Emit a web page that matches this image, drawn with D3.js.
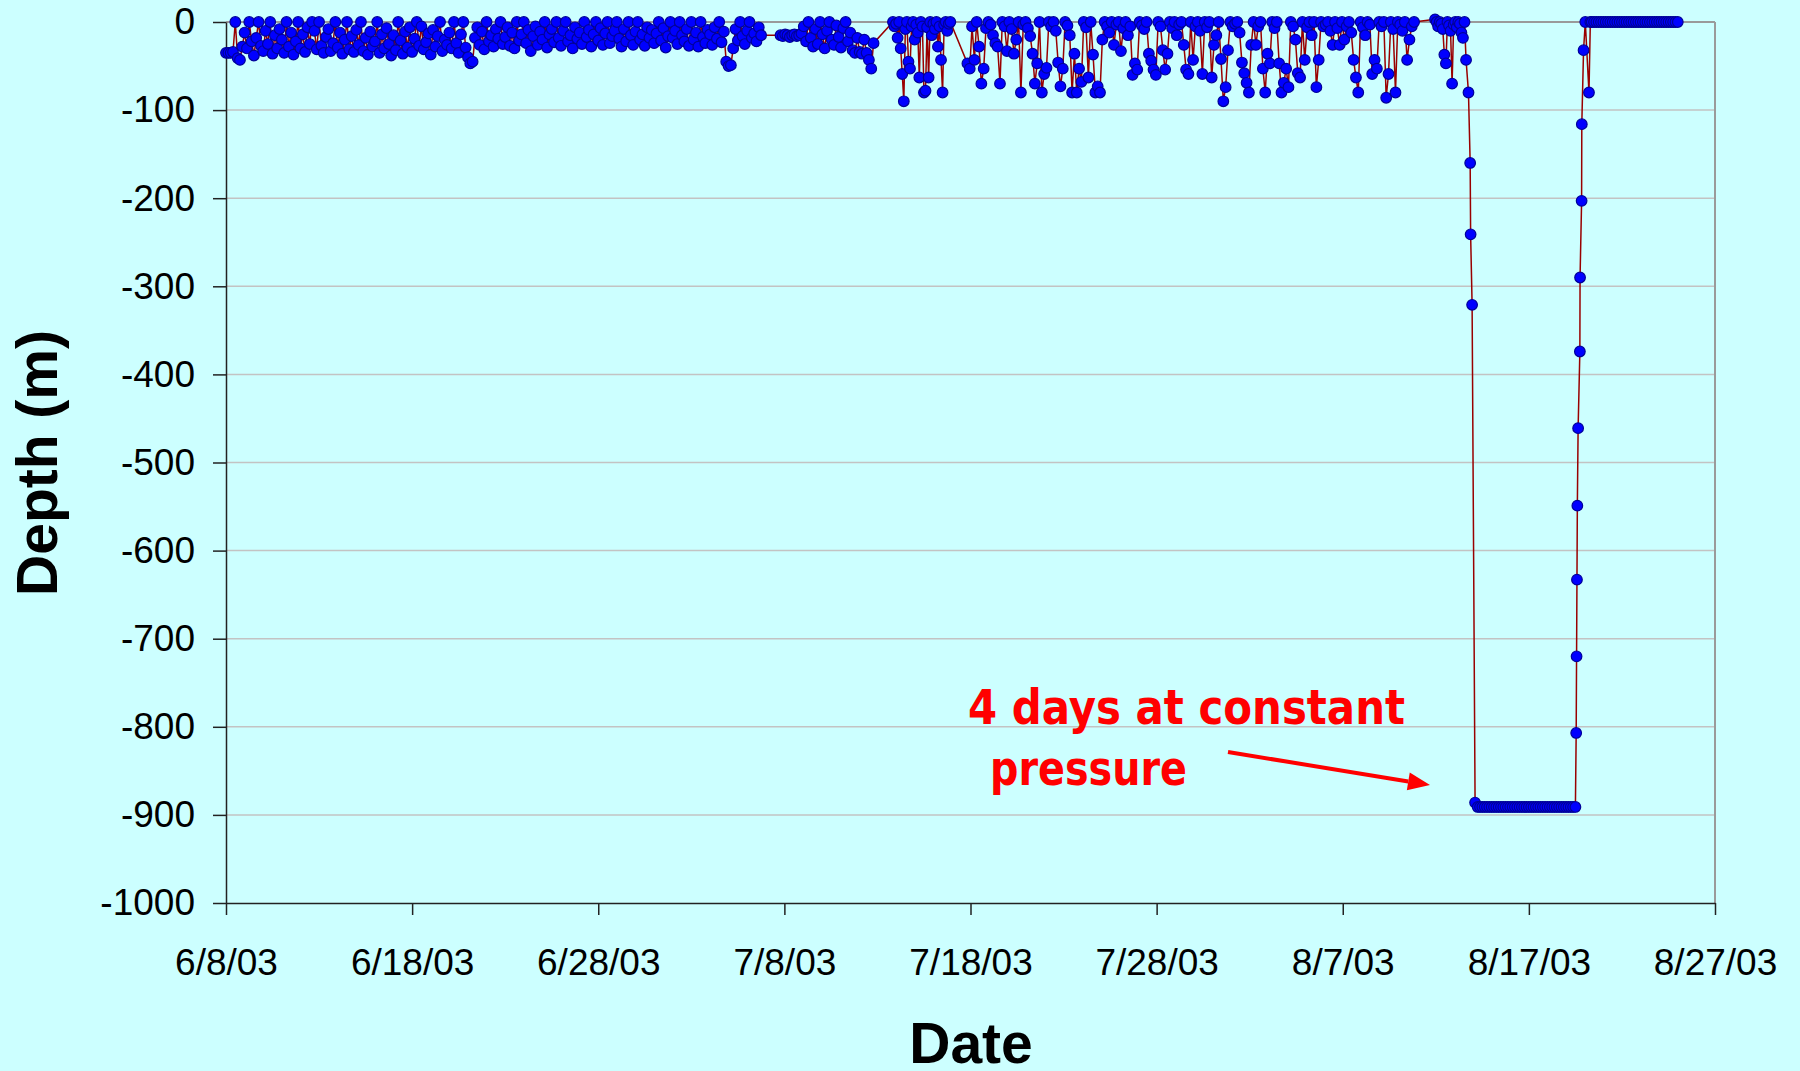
<!DOCTYPE html>
<html>
<head>
<meta charset="utf-8">
<script src="https://cdn.jsdelivr.net/npm/d3@7"></script>
<style>
  html, body { margin: 0; padding: 0; background: #CCFFFF; }
  svg { display: block; }
</style>
</head>
<body>
<script>
// ---------------- DATA ----------------
const xTickDates = ["2003-06-08","2003-06-18","2003-06-28","2003-07-08","2003-07-18","2003-07-28","2003-08-07","2003-08-17","2003-08-27"];
const xTickLabels = ["6/8/03","6/18/03","6/28/03","7/8/03","7/18/03","7/28/03","8/7/03","8/17/03","8/27/03"];
const yTickValues = [0,-100,-200,-300,-400,-500,-600,-700,-800,-900,-1000];
const yTickLabels = ["0","-100","-200","-300","-400","-500","-600","-700","-800","-900","-1000"];

// regularly sampled segments: start time, sampling step (hours)
const segStarts = ["2003-06-08T00:00","2003-07-07T19:00","2003-07-13T20:00","2003-07-17T20:00","2003-08-11T23:00","2003-08-14T06:00","2003-08-20T09:00"];
const segStepHours = [3, 3, 2, 3, 2, 3, 3];

// 6/8 - 7/7 (3 h)
const depthJune = [
 -35,-35,-35,-34,0,-41,-43,-28,
 -12,-30,0,-22,-38,-18,0,-27,
 -33,-10,-25,0,-36,-15,-30,-8,
 -20,-35,0,-28,-12,-37,-22,0,
 -30,-14,-34,-6,-25,0,-10,-31,
 0,-27,-35,-17,-8,-33,-24,0,
 -29,-12,-36,-20,0,-31,-16,-34,
 -9,-26,0,-33,-18,-37,-11,-28,
 -22,0,-35,-14,-30,-7,-25,-38,
 -15,-32,0,-21,-36,-11,-29,-6,
 -34,-19,0,-27,-5,-31,-23,-13,
 -37,-9,-28,-16,0,-33,-20,-26,
 -12,-30,0,-24,-35,-14,0,-29,
 -40,-47,-45,-18,-6,-26,-11,-31,
 0,-22,-15,-28,-8,-19,0,-25,
 -17,-6,-27,-12,-30,0,-21,-14,
 0,-24,-9,-33,-16,-5,-26,-11,
 -20,0,-29,-14,-8,-23,0,-18,
 -27,-10,0,-22,-15,-30,-6,-19,
 -12,-25,0,-17,-9,-28,-14,0,
 -21,-7,-26,-13,0,-24,-16,-10,
 0,-19,-28,-8,-22,0,-15,-26,
 -11,0,-20,-14,-27,-6,-18,-9,
 -24,-13,0,-21,-7,-29,-16,0,
 -18,-10,-25,0,-15,-22,-8,-27,
 0,-20,-12,-28,0,-17,-24,-9,
 -14,-26,-6,-19,0,-23,-11,-45,
 -50,-49,-30,-8,-21,0,-16,-25,
 -10,0,-18,-13,-22,-6,-15
];
// 7/7 - 7/13 (3 h)
const depthEarlyJuly = [
 -15,-16,-14,-15,-17,-15,-14,-16,-15,-13,
 -5,-22,0,-18,-28,-8,-25,0,-14,-30,
 -10,0,-20,-26,-4,-17,-29,-7,0,-22,
 -12,-32,-35,-18,-34,-36,-20,-35,-43,-53,-24
];
// 7/13 - 7/16 (2 h)
const depthMidJuly = [
 0,-5,-2,-18,0,-30,-59,-90,-8,0,-45,-53,-5,0,-20,-3,-12,-63,0,-5,
 -80,-78,-6,-63,0,-15,-2,-8,0,-28,-5,-43,-80,-3,0,-10,-2,0
];
// 7/17 - 8/10 (3 h)
const depthLateJuly = [
 -47,-53,-5,-43,0,-28,-70,-53,
 -7,0,-3,-15,-24,-28,-70,0,
 -5,-33,0,-8,-36,-20,0,-80,
 -3,0,-7,-16,-36,-70,-47,0,
 -80,-59,-52,0,-5,0,-10,-46,
 -73,-53,0,-4,-15,-80,-36,-80,
 -53,-68,0,-6,-63,0,-37,-80,
 -73,-80,-20,0,-5,-12,0,-26,
 -3,0,-33,-7,0,-15,-5,-60,
 -47,-54,0,-4,-8,0,-36,-44,
 -54,-60,0,-5,-32,-54,-36,0,
 -7,0,-15,-3,0,-26,-54,-59,
 0,-43,-5,0,-10,-59,0,-6,
 0,-63,-26,-15,0,-42,-90,-74,
 -32,0,-5,-2,0,-12,-46,-58,
 -69,-80,-26,0,-26,-5,0,-53,
 -80,-36,-47,0,-7,0,-47,-80,
 -69,-53,-74,0,-5,-20,-58,-63,
 0,-43,-6,0,-15,0,-74,-43,
 0,-5,-3,0,-10,-26,0,-7,
 -26,0,-20,-5,0,-12,-43,-63,
 -80,0,-6,-15,0,-3,-59,-43,
 -53,0,-5,0,-86,-59,0,-8,
 -80,0,-3,-10,0,-43,-20,-5,
 0
];
// 8/11 - 8/13 (2 h)
const depthAugust = [3,0,-5,0,-2,-8,-37,-47,0,-4,-10,-70,-3,0,-6,0,-2,-12,-18,0,-43];
// plateau 8/14 - 8/19 (3 h)
const depthPlateau = [
 -891,-891,-891,-891,-891,-891,-891,-891,-891,-891,
 -891,-891,-891,-891,-891,-891,-891,-891,-891,-891,
 -891,-891,-891,-891,-891,-891,-891,-891,-891,-891,
 -891,-891,-891,-891,-891,-891,-891,-891,-891,-891,
 -891,-891,-891
];
// surface 8/20 - 8/25 (3 h)
const depthSurface = [
 0,0,0,0,0,0,0,0,0,0,0,0,0,0,0,0,0,0,0,0,
 0,0,0,0,0,0,0,0,0,0,0,0,0,0,0,0,0,0
];
const segDepths = [depthJune, depthEarlyJuly, depthMidJuly, depthLateJuly, depthAugust, depthPlateau, depthSurface];

// irregular points: the dive down and the ascent
const descentTimes = ["2003-08-13T18:07","2003-08-13T20:18","2003-08-13T20:53","2003-08-13T22:48","2003-08-14T02:38"];
const descentDepths = [-80,-160,-241,-321,-886];
const ascentTimes = ["2003-08-19T13:00","2003-08-19T13:30","2003-08-19T14:00","2003-08-19T14:30","2003-08-19T15:30","2003-08-19T17:45","2003-08-19T18:00","2003-08-19T20:00","2003-08-19T20:15","2003-08-19T22:30","2003-08-20T00:45","2003-08-20T05:30","2003-08-20T07:15"];
const ascentDepths = [-807,-720,-633,-549,-461,-374,-290,-203,-116,-32,0,-80,0];

// ---------------- BUILD ----------------
const parseT = d3.timeParse("%Y-%m-%dT%H:%M");
const parseD = d3.timeParse("%Y-%m-%d");
let pts = [];
segStarts.forEach((s, k) => {
  const t0 = parseT(s);
  segDepths[k].forEach((v, i) => {
    pts.push({t: new Date(t0.getTime() + i * segStepHours[k] * 3600000), v});
  });
});
descentTimes.forEach((s, i) => pts.push({t: parseT(s), v: descentDepths[i]}));
ascentTimes.forEach((s, i) => pts.push({t: parseT(s), v: ascentDepths[i]}));
pts.sort((a, b) => a.t - b.t);

const W = 1800, H = 1071;
const L = 226, R = 1715, T = 22, B = 903;

const svg = d3.select("body").append("svg").attr("width", W).attr("height", H);
svg.append("rect").attr("width", W).attr("height", H).attr("fill", "#CCFFFF");

const x = d3.scaleTime().domain([parseD(xTickDates[0]), parseD(xTickDates[xTickDates.length - 1])]).range([L, R]);
const y = d3.scaleLinear().domain([-1000, 0]).range([B, T]);

// gridlines
svg.append("g").selectAll("line").data(yTickValues.filter(v => v > -1000)).join("line")
  .attr("x1", L).attr("x2", R).attr("y1", d => y(d)).attr("y2", d => y(d))
  .attr("stroke", d => d === 0 ? "#9a9a9a" : "#c3c3c3").attr("stroke-width", d => d === 0 ? 2 : 1.5);
// right border
svg.append("line").attr("x1", R).attr("x2", R).attr("y1", T).attr("y2", B)
  .attr("stroke", "#9a9a9a").attr("stroke-width", 2);

// axes
const yAxis = d3.axisLeft(y).tickValues(yTickValues).tickSize(13).tickSizeOuter(0).tickPadding(18)
  .tickFormat((d, i) => yTickLabels[i]);
const gy = svg.append("g").attr("transform", `translate(${L},0)`).call(yAxis);
gy.selectAll("text").attr("font-family", "'Liberation Sans', Arial, sans-serif").attr("font-size", 37).attr("fill", "#000");
gy.selectAll("line").attr("stroke", "#222").attr("stroke-width", 1.5);
gy.select(".domain").attr("stroke", "#222").attr("stroke-width", 1.5);

const xAxis = d3.axisBottom(x).tickValues(xTickDates.map(parseD)).tickSize(12).tickSizeOuter(0).tickPadding(34)
  .tickFormat((d, i) => xTickLabels[i]);
const gx = svg.append("g").attr("transform", `translate(0,${B})`).call(xAxis);
gx.selectAll("text").attr("font-family", "'Liberation Sans', Arial, sans-serif").attr("font-size", 37).attr("fill", "#000");
gx.selectAll("line").attr("stroke", "#222").attr("stroke-width", 1.5);
gx.select(".domain").attr("stroke", "#222").attr("stroke-width", 1.5);

// line
const line = d3.line().x(d => x(d.t)).y(d => y(d.v));
svg.append("path").datum(pts).attr("d", line).attr("fill", "none")
  .attr("stroke", "#990000").attr("stroke-width", 1.5);

// markers
svg.append("g").selectAll("circle").data(pts).join("circle")
  .attr("cx", d => x(d.t)).attr("cy", d => y(d.v)).attr("r", 5.3)
  .attr("fill", "#0000ff").attr("stroke", "#000099").attr("stroke-width", 1.2);

// axis titles
svg.append("text").attr("transform", "translate(57,463) rotate(-90)")
  .attr("text-anchor", "middle")
  .attr("font-family", "'Liberation Sans', Arial, sans-serif").attr("font-weight", "bold").attr("font-size", 57)
  .text("Depth (m)");
svg.append("text").attr("x", 971).attr("y", 1063).attr("text-anchor", "middle")
  .attr("font-family", "'Liberation Sans', Arial, sans-serif").attr("font-weight", "bold").attr("font-size", 57)
  .text("Date");

// annotation
const ann = svg.append("g").attr("fill", "#ff0000")
  .attr("font-family", "'Comic Sans MS', 'DejaVu Sans', sans-serif").attr("font-weight", "bold").attr("font-size", 48);
ann.append("text").attr("x", 968).attr("y", 724).attr("textLength", 437).attr("lengthAdjust", "spacingAndGlyphs").text("4 days at constant");
ann.append("text").attr("x", 990).attr("y", 785).attr("textLength", 197).attr("lengthAdjust", "spacingAndGlyphs").text("pressure");

const ax1 = 1228, ay1 = 752, ax2 = 1430, ay2 = 785;
const ang = Math.atan2(ay2 - ay1, ax2 - ax1);
const hl = 22, hw = 9;
const bx = ax2 - hl * Math.cos(ang), by = ay2 - hl * Math.sin(ang);
svg.append("line").attr("x1", ax1).attr("y1", ay1).attr("x2", bx).attr("y2", by)
  .attr("stroke", "#ff0000").attr("stroke-width", 4);
svg.append("path")
  .attr("d", `M${ax2},${ay2} L${bx - hw * Math.sin(ang)},${by + hw * Math.cos(ang)} L${bx + hw * Math.sin(ang)},${by - hw * Math.cos(ang)} Z`)
  .attr("fill", "#ff0000");
</script>
</body>
</html>
